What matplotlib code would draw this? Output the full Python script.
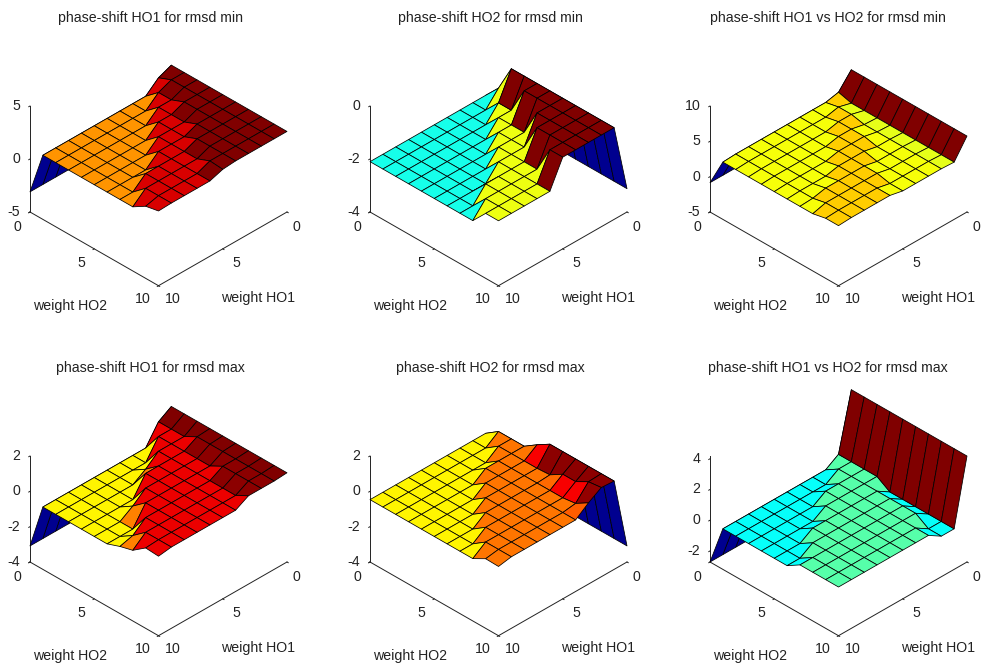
import numpy as np
import matplotlib
matplotlib.use('Agg')
import matplotlib.pyplot as plt
from matplotlib.colors import LinearSegmentedColormap
from mpl_toolkits.mplot3d import proj3d

plt.rcParams['font.family'] = ['Liberation Sans', 'DejaVu Sans']

W, H = 981, 664

# rows: weight HO1 = 0..10, columns: weight HO2 = 0..10
ho1_min = [
    [-3.1, 2.6, 2.6, 2.6, 2.6, 2.6, 2.6, 2.6, 2.6, 2.6, 2.6],
    [-3.1, 2.1, 2.6, 2.6, 2.6, 2.6, 2.6, 2.6, 2.6, 2.6, 2.6],
    [-3.1, 1.05, 2.1, 2.1, 2.6, 2.6, 2.6, 2.6, 2.6, 2.6, 2.6],
    [-3.1, 1.05, 1.05, 2.1, 2.1, 2.1, 2.6, 2.6, 2.6, 2.6, 2.6],
    [-3.1, 1.05, 1.05, 1.05, 2.1, 2.1, 2.1, 2.6, 2.6, 2.6, 2.6],
    [-3.1, 1.05, 1.05, 1.05, 1.05, 2.1, 2.1, 2.1, 2.1, 2.6, 2.5],
    [-3.1, 1.05, 1.05, 1.05, 1.05, 1.05, 2.1, 2.1, 2.1, 2.1, 2.1],
    [-3.1, 1.05, 1.05, 1.05, 1.05, 1.05, 1.05, 2.1, 2.1, 2.1, 2.1],
    [-3.1, 1.05, 1.05, 1.05, 1.05, 1.05, 1.05, 2.1, 2.1, 2.1, 2.1],
    [-3.1, 1.05, 1.05, 1.05, 1.05, 1.05, 1.05, 1.05, 2.1, 2.1, 2.1],
    [-3.1, 1.05, 1.05, 1.05, 1.05, 1.05, 1.05, 1.05, 1.05, 1.8, 2.05],
]
ho2_min = [
    [-3.12, -3.12, -3.12, -3.12, -3.12, -3.12, -3.12, -3.12, -3.12, -3.12, -3.12],
    [-2.1, -1.55, -0.54, -0.54, -0.54, -0.54, -0.54, -0.54, -0.54, -0.54, -0.54],
    [-2.1, -2.1, -1.55, -1.55, -0.54, -0.54, -0.54, -0.54, -0.54, -0.54, -0.54],
    [-2.1, -2.1, -2.1, -1.55, -1.55, -1.55, -0.54, -0.54, -0.54, -0.54, -0.54],
    [-2.1, -2.1, -2.1, -2.1, -1.55, -1.55, -1.55, -0.54, -0.54, -0.54, -0.54],
    [-2.1, -2.1, -2.1, -2.1, -2.1, -1.55, -1.55, -1.55, -1.55, -0.54, -0.54],
    [-2.1, -2.1, -2.1, -2.1, -2.1, -2.1, -1.55, -1.55, -1.55, -1.55, -1.55],
    [-2.1, -2.1, -2.1, -2.1, -2.1, -2.1, -2.1, -1.55, -1.55, -1.55, -1.55],
    [-2.1, -2.1, -2.1, -2.1, -2.1, -2.1, -2.1, -1.55, -1.55, -1.55, -1.55],
    [-2.1, -2.1, -2.1, -2.1, -2.1, -2.1, -2.1, -2.1, -1.55, -1.55, -1.55],
    [-2.1, -2.1, -2.1, -2.1, -2.1, -2.1, -2.1, -2.1, -2.1, -1.55, -1.55],
]
diff_min = [
    [-0.85, 5.75, 5.75, 5.75, 5.75, 5.75, 5.75, 5.75, 5.75, 5.75, 5.75],
    [-0.85, 3.6, 3.1, 3.1, 3.1, 3.1, 3.1, 3.1, 3.1, 3.1, 3.1],
    [-0.85, 3.2, 3.6, 3.6, 3.2, 3.2, 3.2, 3.2, 3.2, 3.2, 3.2],
    [-0.85, 3.2, 3.2, 3.6, 3.6, 3.6, 3.2, 3.2, 3.2, 3.2, 3.2],
    [-0.85, 3.2, 3.2, 3.2, 3.6, 3.6, 3.6, 3.2, 3.2, 3.2, 3.2],
    [-0.85, 3.2, 3.2, 3.2, 3.2, 3.6, 3.6, 3.6, 3.6, 3.2, 3.2],
    [-0.85, 3.2, 3.2, 3.2, 3.2, 3.2, 3.6, 3.6, 3.6, 3.6, 3.6],
    [-0.85, 3.2, 3.2, 3.2, 3.2, 3.2, 3.2, 3.6, 3.6, 3.6, 3.6],
    [-0.85, 3.2, 3.2, 3.2, 3.2, 3.2, 3.2, 3.6, 3.6, 3.6, 3.6],
    [-0.85, 3.2, 3.2, 3.2, 3.2, 3.2, 3.2, 3.2, 3.6, 3.6, 3.6],
    [-0.85, 3.1, 3.1, 3.1, 3.1, 3.1, 3.1, 3.1, 3.1, 3.5, 3.5],
]
ho1_max = [
    [-3.09, 1.05, 1.05, 1.05, 1.05, 1.05, 1.05, 1.05, 1.05, 1.05, 1.05],
    [-3.09, 0.6, 0.6, 0.6, 1.0, 1.0, 1.0, 1.0, 1.0, 1.0, 1.0],
    [-3.09, -0.47, 0.6, 0.6, 0.6, 0.6, 0.6, 1.0, 1.0, 1.0, 1.0],
    [-3.09, -0.47, -0.47, 0.6, 0.6, 0.6, 0.6, 0.6, 0.6, 0.6, 1.0],
    [-3.09, -0.47, -0.47, 0.0, 0.6, 0.6, 0.6, 0.6, 0.6, 0.6, 0.6],
    [-3.09, -0.47, -0.47, -0.47, 0.6, 0.6, 0.6, 0.6, 0.6, 0.6, 0.6],
    [-3.09, -0.47, -0.47, -0.47, -0.47, 0.6, 0.6, 0.6, 0.6, 0.6, 0.6],
    [-3.09, -0.47, -0.47, -0.47, -0.47, 0.0, 0.6, 0.6, 0.6, 0.6, 0.6],
    [-3.09, -0.47, -0.47, -0.47, -0.47, -0.47, -0.47, 0.6, 0.6, 0.6, 0.6],
    [-3.09, -0.47, -0.47, -0.47, -0.47, -0.47, -0.47, 0.0, 0.6, 0.6, 0.6],
    [-3.09, -0.47, -0.47, -0.47, -0.47, -0.47, -0.47, -0.2, 0.0, 0.55, 0.5],
]
ho2_max = [
    [-3.09, -3.09, -3.09, -3.09, -3.09, -3.09, -3.09, -3.09, -3.09, -3.09, -3.09],
    [-0.47, 0.05, 0.05, 0.05, 0.55, 1.0, 1.0, 1.0, 1.0, 1.0, 1.0],
    [-0.47, -0.47, 0.05, 0.05, 0.05, 0.05, 0.1, 0.55, 0.55, 0.96, 1.05],
    [-0.47, -0.47, -0.47, 0.05, 0.05, 0.05, 0.05, 0.05, 0.05, 0.15, 0.6],
    [-0.47, -0.47, -0.47, 0.05, 0.05, 0.05, 0.05, 0.05, 0.05, 0.05, 0.05],
    [-0.47, -0.47, -0.47, -0.47, 0.05, 0.05, 0.05, 0.05, 0.05, 0.05, 0.05],
    [-0.47, -0.47, -0.47, -0.47, -0.47, 0.05, 0.05, 0.05, 0.05, 0.05, 0.05],
    [-0.47, -0.47, -0.47, -0.47, -0.47, -0.47, 0.05, 0.05, 0.05, 0.05, 0.05],
    [-0.47, -0.47, -0.47, -0.47, -0.47, -0.47, -0.47, 0.05, 0.05, 0.05, 0.05],
    [-0.47, -0.47, -0.47, -0.47, -0.47, -0.47, -0.47, -0.47, 0.05, 0.05, 0.05],
    [-0.47, -0.47, -0.47, -0.47, -0.47, -0.47, -0.47, -0.47, -0.47, -0.06, -0.08],
]
diff_max = [
    [-2.72, 4.18, 4.18, 4.18, 4.18, 4.18, 4.18, 4.18, 4.18, 4.18, 4.18],
    [-2.72, 0.45, 0.45, 0.45, 0.45, -0.08, -0.08, -0.08, -0.08, -0.08, -0.08],
    [-2.72, -0.08, 0.45, 0.45, 0.45, 0.45, 0.45, 0.45, 0.45, -0.08, -0.08],
    [-2.72, -0.08, -0.08, 0.45, 0.45, 0.45, 0.45, 0.45, 0.45, 0.45, 0.45],
    [-2.72, -0.08, -0.08, 0.45, 0.45, 0.45, 0.45, 0.45, 0.45, 0.45, 0.45],
    [-2.72, -0.08, -0.08, -0.08, 0.45, 0.45, 0.45, 0.45, 0.45, 0.45, 0.45],
    [-2.72, -0.08, -0.08, -0.08, -0.08, 0.45, 0.45, 0.45, 0.45, 0.45, 0.45],
    [-2.72, -0.08, -0.08, -0.08, -0.08, 0.45, 0.45, 0.45, 0.45, 0.45, 0.45],
    [-2.72, -0.08, -0.08, -0.08, -0.08, -0.08, 0.45, 0.45, 0.45, 0.45, 0.45],
    [-2.72, -0.08, -0.08, -0.08, -0.08, -0.08, -0.08, 0.45, 0.45, 0.45, 0.45],
    [-2.72, -0.08, -0.08, -0.08, -0.08, -0.08, -0.08, 0.45, 0.45, 0.45, 0.45],
]

titles = ['phase-shift HO1 for rmsd min', 'phase-shift HO2 for rmsd min', 'phase-shift HO1 vs HO2 for rmsd min',
          'phase-shift HO1 for rmsd max', 'phase-shift HO2 for rmsd max', 'phase-shift HO1 vs HO2 for rmsd max']
surfaces = [ho1_min, ho2_min, diff_min, ho1_max, ho2_max, diff_max]
zlims = [(-5, 5), (-4, 0), (-5, 10), (-4, 2), (-4, 2), (-2.72, 4.18)]
zticks = [[-5, 0, 5], [-4, -2, 0], [-5, 0, 5, 10], [-4, -2, 0, 2], [-4, -2, 0, 2], [-2, 0, 2, 4]]
grid_ticks = [0, 5, 10]

# MATLAB style jet
jet = LinearSegmentedColormap('mjet', {
    'red': [(0, 0, 0), (0.375, 0, 0), (0.625, 1, 1), (0.875, 1, 1), (1, 0.5, 0.5)],
    'green': [(0, 0, 0), (0.125, 0, 0), (0.375, 1, 1), (0.625, 1, 1), (0.875, 0, 0), (1, 0, 0)],
    'blue': [(0, 0.5625, 0.5625), (0.125, 1, 1), (0.375, 1, 1), (0.625, 0, 0), (1, 0, 0)],
})

fig = plt.figure(figsize=(W / 100, H / 100), dpi=100)


def px_text(x, y, s, **kw):
    fig.text(x / W, 1 - y / H, s, fontsize=10.2, color='#222222', ha=kw.pop('ha', 'center'), va='center', **kw)


def draw_panel(idx, left, floor_y, title_x, title_y):
    z = np.array(surfaces[idx])
    zmin, zmax = zlims[idx]
    ho1, ho2 = np.meshgrid(np.arange(11), np.arange(11), indexing='ij')
    side = 330
    ax = fig.add_axes([0, 0, side / W, side / H], projection='3d', proj_type='ortho')
    ax.patch.set_alpha(0)
    ax.set_box_aspect((1, 1, 0.712))
    ax.view_init(elev=35, azim=45)
    ax.set_xlim(0, 10, view_margin=0)
    ax.set_ylim(0, 10, view_margin=0)
    ax.set_zlim(zmin, zmax, view_margin=0)

    colors = jet((z - z.min()) / (z.max() - z.min()))
    ax.plot_surface(ho1, ho2, z, facecolors=colors, edgecolor='black', linewidth=0.55,
                    rstride=1, cstride=1, shade=False, antialiased=True)

    ax.grid(False)
    for axis in (ax.xaxis, ax.yaxis, ax.zaxis):
        axis.set_pane_color((1, 1, 1, 0))
        axis.pane.set_edgecolor((1, 1, 1, 0))
        axis.line.set_color('#222222')
        axis.line.set_linewidth(0.7)
        axis._axinfo['tick']['inward_factor'] = 0.12
        axis._axinfo['tick']['outward_factor'] = 0.0
        axis._axinfo['tick']['linewidth'] = {True: 0.7, False: 0.5}
        axis.set_tick_params(labelsize=1, colors='#222222')
    ax.set_xticks(grid_ticks, labels=['', '', ''])
    ax.set_yticks(grid_ticks, labels=['', '', ''])
    ax.set_zticks(zticks[idx], labels=[''] * len(zticks[idx]))
    ax.zaxis.set_ticks_position('lower')

    # move and scale the axes so the floor corners land where they should
    def corner(x, y, zz):
        px, py, _ = proj3d.proj_transform(x, y, zz, ax.get_proj())
        return ax.transData.transform((px, py))

    fig.canvas.draw()
    a = corner(10, 0, zmin)
    b = corner(0, 10, zmin)
    side2 = side * 257 / (b[0] - a[0])
    ax.set_position([0, 0, side2 / W, side2 / H])
    fig.canvas.draw()
    a = corner(10, 0, zmin)
    ax.set_position([(left - a[0]) / W, (H - floor_y - a[1]) / H, side2 / W, side2 / H])

    for t in zticks[idx]:
        yy = floor_y - (t - zmin) / (zmax - zmin) * 106
        px_text(left - 9.5, yy, str(t), ha='right')
    for t, dx, dy in zip(grid_ticks, (-13, 51, 113), (15, 51, 87)):
        px_text(left + dx, floor_y + dy, str(t))
    for t, dx, dy in zip(grid_ticks, (266, 206, 143), (15, 51, 87)):
        px_text(left + dx, floor_y + dy, str(t))
    px_text(left + 40, floor_y + 94, 'weight HO2')
    px_text(left + 228, floor_y + 86, 'weight HO1')
    px_text(title_x, title_y, titles[idx])


lefts = [30, 370, 710]
title_xs = [150, 490, 828]
for i in range(6):
    draw_panel(i, lefts[i % 3], 212 if i < 3 else 562, title_xs[i % 3], 18 if i < 3 else 368)

fig.savefig('out.png', dpi=100)
